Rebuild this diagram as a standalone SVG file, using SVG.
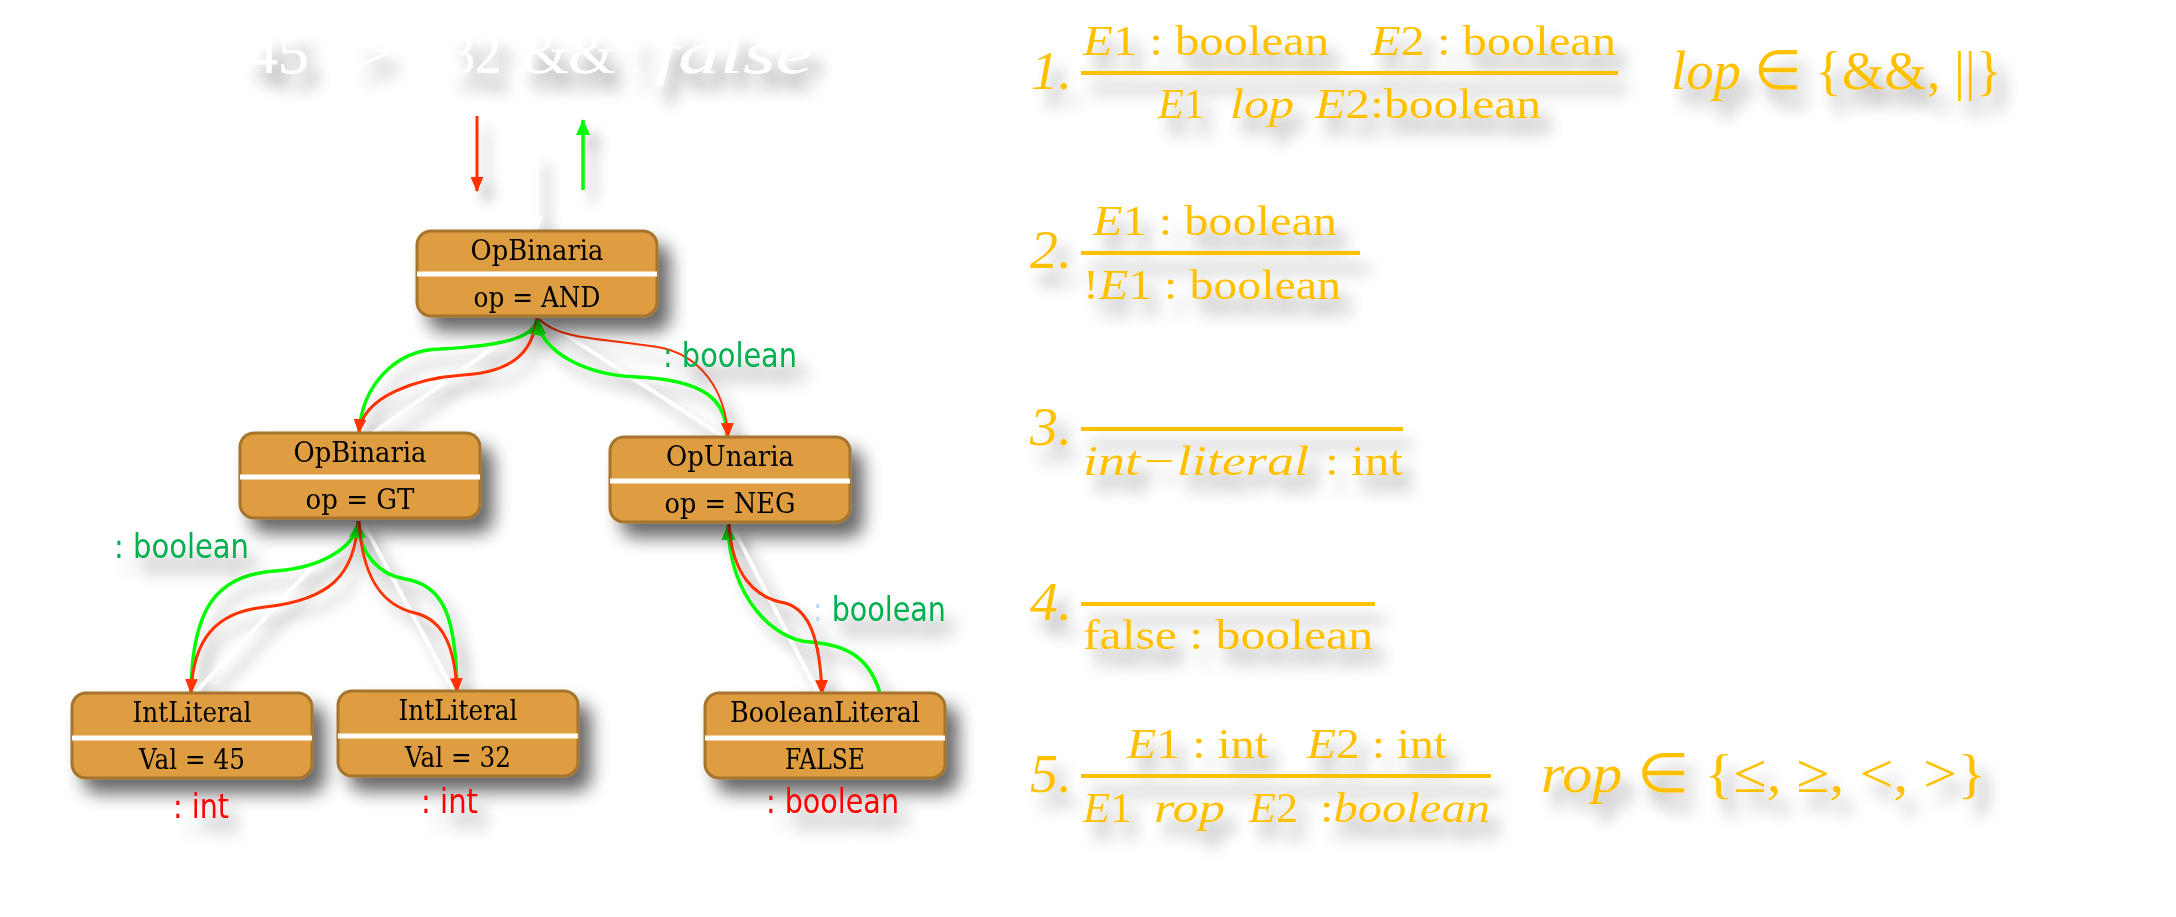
<svg xmlns="http://www.w3.org/2000/svg" width="2176" height="917" viewBox="0 0 2176 917">
<defs>
<style>
.box{fill:#DE9D40;stroke:#A5752F;stroke-width:3}
.dv{stroke:#fff;stroke-width:5}
.nt{font-family:"DejaVu Serif",serif;font-size:28px;fill:#000;text-anchor:middle}
.lbl{font-family:"DejaVu Sans",sans-serif;font-size:33px}
.gl{fill:#00B050}
.rl{fill:#FF0000}
.f{font-family:"Liberation Serif",serif;font-size:42px;fill:#FFC000}
.fb{font-size:55px}
.i{font-style:italic}
.rule{stroke:#FFC000;stroke-width:4}
.w{stroke:#fff;stroke-width:3.5;fill:none}
.r{stroke:#FF3300;stroke-width:3;fill:none}
.g{stroke:#00FF00;stroke-width:3.5;fill:none}
.top{font-family:"Liberation Serif",serif;font-size:60px;fill:#fff}
</style>
<filter id="sh" filterUnits="userSpaceOnUse" x="0" y="0" width="2176" height="917">
<feGaussianBlur in="SourceAlpha" stdDeviation="9"/>
<feOffset dx="12" dy="14"/>
<feComponentTransfer><feFuncA type="linear" slope="0.6"/></feComponentTransfer>
<feMerge><feMergeNode/><feMergeNode in="SourceGraphic"/></feMerge>
</filter>
<filter id="csh" filterUnits="userSpaceOnUse" x="0" y="0" width="2176" height="917">
<feGaussianBlur in="SourceAlpha" stdDeviation="7"/>
<feOffset dx="10" dy="12"/>
<feComponentTransfer><feFuncA type="linear" slope="0.35"/></feComponentTransfer>
<feMerge><feMergeNode/><feMergeNode in="SourceGraphic"/></feMerge>
</filter>
<filter id="tsh" filterUnits="userSpaceOnUse" x="0" y="0" width="2176" height="917">
<feGaussianBlur in="SourceAlpha" stdDeviation="8"/>
<feOffset dx="10" dy="16"/>
<feComponentTransfer><feFuncA type="linear" slope="0.42"/></feComponentTransfer>
<feMerge><feMergeNode/><feMergeNode in="SourceGraphic"/></feMerge>
</filter>
<marker id="ar" markerUnits="userSpaceOnUse" viewBox="0 0 14 12" markerWidth="15" markerHeight="13" refX="13" refY="6" orient="auto"><path d="M0,0 L14,6 L0,12 z" fill="#FF3300"/></marker>
<marker id="ag" markerUnits="userSpaceOnUse" viewBox="0 0 16 14" markerWidth="16" markerHeight="14" refX="15" refY="7" orient="auto"><path d="M0,0 L16,7 L0,14 z" fill="#00FF00"/></marker>
<marker id="aw" markerUnits="userSpaceOnUse" viewBox="0 0 14 12" markerWidth="14" markerHeight="12" refX="13" refY="6" orient="auto"><path d="M0,0 L14,6 L0,12 z" fill="#fff"/></marker>
</defs>
<rect width="2176" height="917" fill="#fff"/>

<g id="expression" filter="url(#tsh)">
<text class="top" x="247" y="73" textLength="62" lengthAdjust="spacingAndGlyphs">45</text>
<text class="top" x="353" y="73" textLength="39" lengthAdjust="spacingAndGlyphs">&gt;</text>
<text class="top" x="449" y="73" textLength="52" lengthAdjust="spacingAndGlyphs">32</text>
<text class="top" x="522" y="73" textLength="93" lengthAdjust="spacingAndGlyphs">&amp;&amp;</text>
<text class="top" x="630" y="73" textLength="12" lengthAdjust="spacingAndGlyphs">!</text>
<text class="top i" x="655" y="73" textLength="158" lengthAdjust="spacingAndGlyphs">false</text>
</g>

<g id="connectors" filter="url(#csh)">
<path class="r" d="M477,116 L477,191" marker-end="url(#ar)"/>
<path class="g" d="M583,190 L583,120" marker-end="url(#ag)"/>
<path class="w" d="M537,153 L537,229" marker-end="url(#aw)"/>
<path class="w" d="M535,318 L373,433"/>
<path class="w" d="M540,318 L724,437"/>
<path class="w" d="M355,521 L196,692"/>
<path class="w" d="M362,521 L453,690"/>
<path class="w" d="M731,524 L818,693"/>
<path class="g" d="M359,433 C362,385 395,350 440,349 C495,346 533,340 537,320" marker-end="url(#ag)"/>
<path class="r" d="M537,318 C533,350 515,372 463,375 C420,378 362,395 359,433" marker-end="url(#ar)"/>
<path class="g" d="M727,437 C727,400 705,380 637,377 C585,375 541,352 538,320" marker-end="url(#ag)"/>
<path class="r" style="stroke-width:2" d="M539,319 C560,340 600,338 657,347 C700,354 726,390 728,437" marker-end="url(#ar)"/>
<path class="g" d="M191,692 C192,610 215,575 275,571 C320,568 355,548 358,523" marker-end="url(#ag)"/>
<path class="r" d="M358,521 C355,575 330,600 265,607 C215,612 193,640 191,693" marker-end="url(#ar)"/>
<path class="g" d="M457,690 C456,620 445,585 405,579 C380,575 360,555 358,523" marker-end="url(#ag)"/>
<path class="r" d="M359,521 C362,575 380,605 415,613 C445,620 455,650 457,692" marker-end="url(#ar)"/>
<path class="g" d="M880,693 C870,660 850,645 810,642 C775,640 730,600 728,525" marker-end="url(#ag)"/>
<path class="r" d="M729,524 C732,575 755,598 785,603 C810,610 820,640 822,694" marker-end="url(#ar)"/>
</g>

<g id="n1" filter="url(#sh)">
<rect class="box" x="417" y="231" width="240" height="85" rx="14"/>
<line class="dv" x1="417" y1="274" x2="657" y2="274"/>
<text class="nt" x="537" y="260" textLength="133" lengthAdjust="spacingAndGlyphs">OpBinaria</text>
<text class="nt" x="537" y="307" textLength="127" lengthAdjust="spacingAndGlyphs">op = AND</text>
</g>
<g id="n2" filter="url(#sh)">
<rect class="box" x="240" y="433" width="240" height="85" rx="14"/>
<line class="dv" x1="240" y1="477" x2="480" y2="477"/>
<text class="nt" x="360" y="462" textLength="133" lengthAdjust="spacingAndGlyphs">OpBinaria</text>
<text class="nt" x="360" y="509" textLength="109" lengthAdjust="spacingAndGlyphs">op = GT</text>
</g>
<g id="n3" filter="url(#sh)">
<rect class="box" x="610" y="437" width="240" height="85" rx="14"/>
<line class="dv" x1="610" y1="481" x2="850" y2="481"/>
<text class="nt" x="730" y="466" textLength="128" lengthAdjust="spacingAndGlyphs">OpUnaria</text>
<text class="nt" x="730" y="513" textLength="131" lengthAdjust="spacingAndGlyphs">op = NEG</text>
</g>
<g id="n4" filter="url(#sh)">
<rect class="box" x="72" y="693" width="240" height="85" rx="14"/>
<line class="dv" x1="72" y1="738" x2="312" y2="738"/>
<text class="nt" x="192" y="722" textLength="119" lengthAdjust="spacingAndGlyphs">IntLiteral</text>
<text class="nt" x="192" y="769" textLength="106" lengthAdjust="spacingAndGlyphs">Val = 45</text>
</g>
<g id="n5" filter="url(#sh)">
<rect class="box" x="338" y="691" width="240" height="85" rx="14"/>
<line class="dv" x1="338" y1="736" x2="578" y2="736"/>
<text class="nt" x="458" y="720" textLength="119" lengthAdjust="spacingAndGlyphs">IntLiteral</text>
<text class="nt" x="458" y="767" textLength="106" lengthAdjust="spacingAndGlyphs">Val = 32</text>
</g>
<g id="n6" filter="url(#sh)">
<rect class="box" x="705" y="693" width="240" height="85" rx="14"/>
<line class="dv" x1="705" y1="738" x2="945" y2="738"/>
<text class="nt" x="825" y="722" textLength="190" lengthAdjust="spacingAndGlyphs">BooleanLiteral</text>
<text class="nt" x="825" y="769" textLength="80" lengthAdjust="spacingAndGlyphs">FALSE</text>
</g>

<g id="labels" filter="url(#tsh)">
<text class="lbl gl" x="663" y="367" textLength="134" lengthAdjust="spacingAndGlyphs">: boolean</text>
<text class="lbl gl" x="114" y="558" textLength="135" lengthAdjust="spacingAndGlyphs">: boolean</text>
<text class="lbl gl" x="813" y="621" textLength="133" lengthAdjust="spacingAndGlyphs"><tspan fill="#BDD7EE">:</tspan> boolean</text>
<text class="lbl rl" x="173" y="818" textLength="56" lengthAdjust="spacingAndGlyphs">: int</text>
<text class="lbl rl" x="421" y="813" textLength="57" lengthAdjust="spacingAndGlyphs">: int</text>
<text class="lbl rl" x="766" y="813" textLength="133" lengthAdjust="spacingAndGlyphs">: boolean</text>
</g>

<g id="rules" filter="url(#tsh)">
<g id="rule1">
<text class="f fb i" x="1031" y="89" textLength="41" lengthAdjust="spacingAndGlyphs">1.</text>
<text class="f" x="1083" y="55" textLength="246" lengthAdjust="spacingAndGlyphs"><tspan class="i">E</tspan>1 : boolean</text>
<text class="f" x="1371" y="55" textLength="245" lengthAdjust="spacingAndGlyphs"><tspan class="i">E</tspan>2 : boolean</text>
<line class="rule" x1="1081" y1="73" x2="1618" y2="73"/>
<text class="f" x="1158" y="118" textLength="47" lengthAdjust="spacingAndGlyphs"><tspan class="i">E</tspan>1</text>
<text class="f i" x="1230" y="118" textLength="64" lengthAdjust="spacingAndGlyphs">lop</text>
<text class="f" x="1315" y="118" textLength="226" lengthAdjust="spacingAndGlyphs"><tspan class="i">E</tspan>2:boolean</text>
<text class="f fb" x="1671" y="89" textLength="331" lengthAdjust="spacingAndGlyphs"><tspan class="i">lop</tspan> ∈ {&amp;&amp;, ||}</text>
</g>
<g id="rule2">
<text class="f fb i" x="1030" y="268" textLength="42" lengthAdjust="spacingAndGlyphs">2.</text>
<text class="f" x="1093" y="235" textLength="244" lengthAdjust="spacingAndGlyphs"><tspan class="i">E</tspan>1 : boolean</text>
<line class="rule" x1="1081" y1="253" x2="1360" y2="253"/>
<text class="f" x="1083" y="299" textLength="258" lengthAdjust="spacingAndGlyphs">!<tspan class="i">E</tspan>1 : boolean</text>
</g>
<g id="rule3">
<text class="f fb i" x="1030" y="445" textLength="42" lengthAdjust="spacingAndGlyphs">3.</text>
<line class="rule" x1="1081" y1="429" x2="1403" y2="429"/>
<text class="f i" x="1083" y="475" textLength="226" lengthAdjust="spacingAndGlyphs">int−literal</text>
<text class="f" x="1325" y="475" textLength="78" lengthAdjust="spacingAndGlyphs">: int</text>
</g>
<g id="rule4">
<text class="f fb i" x="1030" y="620" textLength="42" lengthAdjust="spacingAndGlyphs">4.</text>
<line class="rule" x1="1081" y1="604" x2="1375" y2="604"/>
<text class="f" x="1083" y="649" textLength="290" lengthAdjust="spacingAndGlyphs">false : boolean</text>
</g>
<g id="rule5">
<text class="f fb i" x="1030" y="792" textLength="42" lengthAdjust="spacingAndGlyphs">5.</text>
<text class="f" x="1127" y="758" textLength="141" lengthAdjust="spacingAndGlyphs"><tspan class="i">E</tspan>1 : int</text>
<text class="f" x="1307" y="758" textLength="140" lengthAdjust="spacingAndGlyphs"><tspan class="i">E</tspan>2 : int</text>
<line class="rule" x1="1081" y1="776" x2="1491" y2="776"/>
<text class="f" x="1083" y="822" textLength="49" lengthAdjust="spacingAndGlyphs"><tspan class="i">E</tspan>1</text>
<text class="f i" x="1154" y="822" textLength="71" lengthAdjust="spacingAndGlyphs">rop</text>
<text class="f" x="1249" y="822" textLength="49" lengthAdjust="spacingAndGlyphs"><tspan class="i">E</tspan>2</text>
<text class="f" x="1320" y="822" textLength="170" lengthAdjust="spacingAndGlyphs">:<tspan class="i">boolean</tspan></text>
<text class="f fb" x="1541" y="792" textLength="445" lengthAdjust="spacingAndGlyphs"><tspan class="i">rop</tspan> ∈ {≤, ≥, &lt;, &gt;}</text>
</g>
</g>
</svg>
